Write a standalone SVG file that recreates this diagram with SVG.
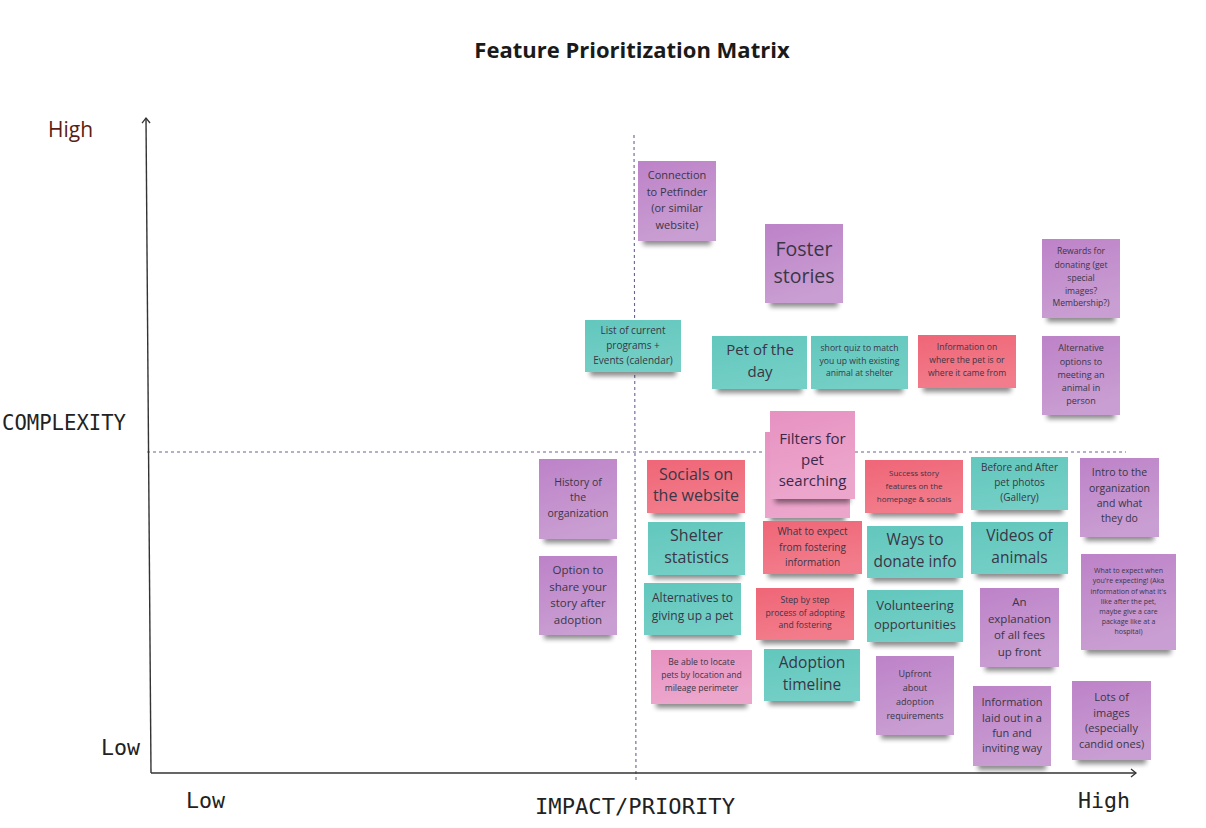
<svg xmlns="http://www.w3.org/2000/svg" width="1206" height="828" viewBox="0 0 1206 828">
<defs>
<marker id="arr" markerWidth="10" markerHeight="10" refX="6" refY="5" orient="auto" markerUnits="userSpaceOnUse">
<path d="M1,1 L6,5 L1,9" fill="none" stroke="#333" stroke-width="1.3"/>
</marker>
<filter id="blur" x="-20%" y="-100%" width="140%" height="300%"><feGaussianBlur stdDeviation="2.5"/></filter>
<linearGradient id="gP" x1="0" y1="0" x2="0.3" y2="1"><stop offset="0" stop-color="#bd82c8"/><stop offset="1" stop-color="#c99ed2"/></linearGradient>
<linearGradient id="gT" x1="0" y1="0" x2="0.3" y2="1"><stop offset="0" stop-color="#62c7bd"/><stop offset="1" stop-color="#74cfc6"/></linearGradient>
<linearGradient id="gR" x1="0" y1="0" x2="0.3" y2="1"><stop offset="0" stop-color="#ef6677"/><stop offset="1" stop-color="#f27c8b"/></linearGradient>
<linearGradient id="gK" x1="0" y1="0" x2="0.3" y2="1"><stop offset="0" stop-color="#e792c1"/><stop offset="1" stop-color="#eca6cc"/></linearGradient>
</defs>
<style>
.sh{fill:#000;opacity:0.45;filter:url(#blur)}
.p{fill:url(#gP)}
.t{fill:url(#gT)}
.r{fill:url(#gR)}
.k{fill:url(#gK)}
text{font-family:"Open Sans","Noto Sans","DejaVu Sans",sans-serif;fill:#3a3646;text-anchor:middle;dominant-baseline:central}
.mono{font-family:"DejaVu Sans Mono","Liberation Mono",monospace;fill:#222;text-anchor:start;dominant-baseline:alphabetic}
.axis{stroke:#333;stroke-width:1.4;fill:none}
.dash{stroke:#6a6390;stroke-width:1.1;stroke-dasharray:3 3;fill:none}
</style>
<rect width="1206" height="828" fill="#ffffff"/>

<text x="632" y="49" style="font-size:22px;font-weight:bold;fill:#1a1a1a">Feature Prioritization Matrix</text>

<g id="axes">
<line class="dash" x1="634" y1="135" x2="636" y2="782"/>
<line class="dash" x1="147" y1="452" x2="1126" y2="452"/>
<line class="axis" x1="151" y1="773" x2="146" y2="118" marker-end="url(#arr)"/>
<line class="axis" x1="151" y1="773" x2="1136" y2="773" marker-end="url(#arr)"/>
<text x="48" y="137" style="font-size:21px;fill:#5a1e14;text-anchor:start;dominant-baseline:alphabetic">High</text>
<text class="mono" x="2" y="430" style="font-size:20.5px" textLength="124" lengthAdjust="spacingAndGlyphs">COMPLEXITY</text>
<text class="mono" x="101" y="755" style="font-size:21px" textLength="39" lengthAdjust="spacingAndGlyphs">Low</text>
<text class="mono" x="186" y="808" style="font-size:21px" textLength="39" lengthAdjust="spacingAndGlyphs">Low</text>
<text class="mono" x="535" y="814" style="font-size:21px" textLength="200" lengthAdjust="spacingAndGlyphs">IMPACT/PRIORITY</text>
<text class="mono" x="1078" y="808" style="font-size:21px" textLength="52" lengthAdjust="spacingAndGlyphs">High</text>
</g>

<g id="n-petfinder"><rect class="sh" x="643" y="235" width="68" height="10"/><rect class="p" x="638" y="161" width="78" height="80"/>
<text style="font-size:11px"><tspan x="677" y="174">Connection</tspan><tspan x="677" y="190.5">to Petfinder</tspan><tspan x="677" y="207">(or similar</tspan><tspan x="677" y="223.5">website)</tspan></text></g>

<g id="n-programs"><rect class="sh" x="590" y="366" width="86" height="10"/><rect class="t" x="585" y="320" width="96" height="52"/>
<text style="font-size:10px"><tspan x="633" y="330">List of current</tspan><tspan x="633" y="345">programs +</tspan><tspan x="633" y="360">Events (calendar)</tspan></text></g>

<g id="n-foster"><rect class="sh" x="770" y="297" width="68" height="10"/><rect class="p" x="765" y="224" width="78" height="79"/>
<text style="font-size:19.5px"><tspan x="804" y="248">Foster</tspan><tspan x="804" y="275">stories</tspan></text></g>

<g id="n-petday"><rect class="sh" x="717" y="383" width="85" height="10"/><rect class="t" x="712" y="336" width="95" height="53"/>
<text style="font-size:15px"><tspan x="760" y="349">Pet of the</tspan><tspan x="760" y="371">day</tspan></text></g>

<g id="n-quiz"><rect class="sh" x="816" y="383" width="87" height="10"/><rect class="t" x="811" y="336" width="97" height="53"/>
<text style="font-size:8.6px"><tspan x="859.5" y="348">short quiz to match</tspan><tspan x="859.5" y="361">you up with existing</tspan><tspan x="859.5" y="373">animal at shelter</tspan></text></g>

<g id="n-infowhere"><rect class="sh" x="923" y="382" width="88" height="10"/><rect class="r" x="918" y="335" width="98" height="53"/>
<text style="font-size:8.6px"><tspan x="967" y="347">Information on</tspan><tspan x="967" y="360">where the pet is or</tspan><tspan x="967" y="373">where it came from</tspan></text></g>

<g id="n-rewards"><rect class="sh" x="1047" y="312" width="68" height="10"/><rect class="p" x="1042" y="239" width="78" height="79"/>
<text style="font-size:8.6px"><tspan x="1081" y="251">Rewards for</tspan><tspan x="1081" y="265">donating (get</tspan><tspan x="1081" y="278">special</tspan><tspan x="1081" y="291">images?</tspan><tspan x="1081" y="303">Membership?)</tspan></text></g>

<g id="n-altoptions"><rect class="sh" x="1047" y="409" width="68" height="10"/><rect class="p" x="1042" y="336" width="78" height="79"/>
<text style="font-size:9px"><tspan x="1081" y="347">Alternative</tspan><tspan x="1081" y="361">options to</tspan><tspan x="1081" y="374">meeting an</tspan><tspan x="1081" y="387">animal in</tspan><tspan x="1081" y="400">person</tspan></text></g>

<g id="n-filters"><rect class="sh" x="770" y="512" width="75" height="10"/><rect class="k" x="765" y="432" width="85" height="86"/>
<rect class="sh" x="775" y="493" width="75" height="10"/><rect class="k" x="770" y="411" width="85" height="88"/>
<text style="font-size:15px;fill:#3a2a4a"><tspan x="812.5" y="438">Filters for</tspan><tspan x="812.5" y="459">pet</tspan><tspan x="812.5" y="480">searching</tspan></text></g>

<g id="n-history"><rect class="sh" x="544" y="533" width="68" height="10"/><rect class="p" x="539" y="459" width="78" height="80"/>
<text style="font-size:10.5px"><tspan x="578" y="482">History of</tspan><tspan x="578" y="497">the</tspan><tspan x="578" y="513">organization</tspan></text></g>

<g id="n-share"><rect class="sh" x="544" y="629" width="68" height="10"/><rect class="p" x="539" y="556" width="78" height="79"/>
<text style="font-size:11.5px"><tspan x="578" y="569">Option to</tspan><tspan x="578" y="585.5">share your</tspan><tspan x="578" y="602">story after</tspan><tspan x="578" y="618.5">adoption</tspan></text></g>

<g id="n-socials"><rect class="sh" x="652" y="507" width="88" height="10"/><rect class="r" x="647" y="460" width="98" height="53"/>
<text style="font-size:16px"><tspan x="696" y="474">Socials on</tspan><tspan x="696" y="495">the website</tspan></text></g>

<g id="n-shelter"><rect class="sh" x="653" y="569" width="87" height="10"/><rect class="t" x="648" y="522" width="97" height="53"/>
<text style="font-size:16px"><tspan x="696.5" y="535">Shelter</tspan><tspan x="696.5" y="557">statistics</tspan></text></g>

<g id="n-fostering"><rect class="sh" x="768" y="568" width="89" height="10"/><rect class="r" x="763" y="521" width="99" height="53"/>
<text style="font-size:10px"><tspan x="812.5" y="531">What to expect</tspan><tspan x="812.5" y="546.5">from fostering</tspan><tspan x="812.5" y="561.5">information</tspan></text></g>

<g id="n-success"><rect class="sh" x="870" y="507" width="88" height="10"/><rect class="r" x="865" y="460" width="98" height="53"/>
<text style="font-size:8px"><tspan x="914" y="472">Success story</tspan><tspan x="914" y="485">features on the</tspan><tspan x="914" y="498">homepage &amp; socials</tspan></text></g>

<g id="n-beforeafter"><rect class="sh" x="976" y="504" width="87" height="10"/><rect class="t" x="971" y="457" width="97" height="53"/>
<text style="font-size:10px"><tspan x="1019.5" y="467">Before and After</tspan><tspan x="1019.5" y="482">pet photos</tspan><tspan x="1019.5" y="497">(Gallery)</tspan></text></g>

<g id="n-intro"><rect class="sh" x="1085" y="531" width="69" height="10"/><rect class="p" x="1080" y="458" width="79" height="79"/>
<text style="font-size:10.5px"><tspan x="1119.5" y="472">Intro to the</tspan><tspan x="1119.5" y="488">organization</tspan><tspan x="1119.5" y="503">and what</tspan><tspan x="1119.5" y="518">they do</tspan></text></g>

<g id="n-donate"><rect class="sh" x="872" y="572" width="86" height="10"/><rect class="t" x="867" y="526" width="96" height="52"/>
<text style="font-size:15.5px"><tspan x="915" y="539">Ways to</tspan><tspan x="915" y="561">donate info</tspan></text></g>

<g id="n-videos"><rect class="sh" x="976" y="568" width="87" height="10"/><rect class="t" x="971" y="522" width="97" height="52"/>
<text style="font-size:15.5px"><tspan x="1019.5" y="535">Videos of</tspan><tspan x="1019.5" y="557">animals</tspan></text></g>

<g id="n-expecting"><rect class="sh" x="1086" y="644" width="85" height="10"/><rect class="p" x="1081" y="554" width="95" height="96"/>
<text style="font-size:7px"><tspan x="1128.5" y="570">What to expect when</tspan><tspan x="1128.5" y="580">you're expecting! (Aka</tspan><tspan x="1128.5" y="590.5">information of what it's</tspan><tspan x="1128.5" y="601">like after the pet,</tspan><tspan x="1128.5" y="611">maybe give a care</tspan><tspan x="1128.5" y="621">package like at a</tspan><tspan x="1128.5" y="631">hospital)</tspan></text></g>

<g id="n-alternatives"><rect class="sh" x="649" y="629" width="87" height="10"/><rect class="t" x="644" y="583" width="97" height="52"/>
<text style="font-size:12px"><tspan x="692.5" y="597">Alternatives to</tspan><tspan x="692.5" y="615">giving up a pet</tspan></text></g>

<g id="n-steps"><rect class="sh" x="761" y="634" width="88" height="10"/><rect class="r" x="756" y="588" width="98" height="52"/>
<text style="font-size:8.6px"><tspan x="805" y="600">Step by step</tspan><tspan x="805" y="612.5">process of adopting</tspan><tspan x="805" y="625">and fostering</tspan></text></g>

<g id="n-volunteer"><rect class="sh" x="872" y="636" width="86" height="10"/><rect class="t" x="867" y="590" width="96" height="52"/>
<text style="font-size:13px"><tspan x="915" y="605">Volunteering</tspan><tspan x="915" y="624">opportunities</tspan></text></g>

<g id="n-fees"><rect class="sh" x="985" y="661" width="69" height="10"/><rect class="p" x="980" y="588" width="79" height="79"/>
<text style="font-size:11.5px"><tspan x="1019.5" y="601">An</tspan><tspan x="1019.5" y="617.5">explanation</tspan><tspan x="1019.5" y="634">of all fees</tspan><tspan x="1019.5" y="650.5">up front</tspan></text></g>

<g id="n-locate"><rect class="sh" x="656" y="698" width="91" height="10"/><rect class="k" x="651" y="650" width="101" height="54"/>
<text style="font-size:8.6px"><tspan x="701.5" y="662">Be able to locate</tspan><tspan x="701.5" y="675">pets by location and</tspan><tspan x="701.5" y="688">mileage perimeter</tspan></text></g>

<g id="n-timeline"><rect class="sh" x="769" y="695" width="86" height="10"/><rect class="t" x="764" y="649" width="96" height="52"/>
<text style="font-size:15.5px"><tspan x="812" y="662">Adoption</tspan><tspan x="812" y="684">timeline</tspan></text></g>

<g id="n-upfront"><rect class="sh" x="881" y="729" width="68" height="10"/><rect class="p" x="876" y="656" width="78" height="79"/>
<text style="font-size:9px"><tspan x="915" y="673">Upfront</tspan><tspan x="915" y="687">about</tspan><tspan x="915" y="701">adoption</tspan><tspan x="915" y="715">requirements</tspan></text></g>

<g id="n-funway"><rect class="sh" x="978" y="760" width="68" height="10"/><rect class="p" x="973" y="686" width="78" height="80"/>
<text style="font-size:11px"><tspan x="1012" y="701">Information</tspan><tspan x="1012" y="717">laid out in a</tspan><tspan x="1012" y="732">fun and</tspan><tspan x="1012" y="747">inviting way</tspan></text></g>

<g id="n-images"><rect class="sh" x="1077" y="754" width="69" height="10"/><rect class="p" x="1072" y="681" width="79" height="79"/>
<text style="font-size:11px"><tspan x="1111.5" y="696">Lots of</tspan><tspan x="1111.5" y="712">images</tspan><tspan x="1111.5" y="727">(especially</tspan><tspan x="1111.5" y="743">candid ones)</tspan></text></g>
</svg>
